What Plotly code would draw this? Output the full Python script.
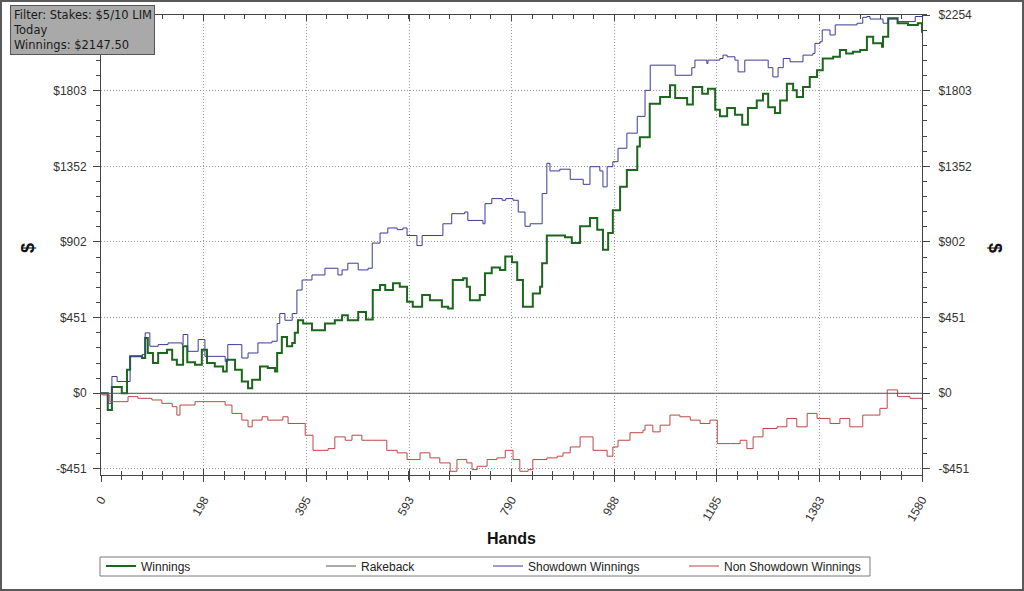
import plotly.graph_objects as go

# ---------------- data ----------------
hands_win = [0, 13, 21, 40, 50, 56, 79, 85, 90, 100, 110, 127, 137, 146, 158, 166, 181, 194, 204, 219,
             235, 242, 258, 271, 283, 291, 306, 321, 335, 339, 348, 358, 368, 373, 379, 389, 406, 431,
             450, 464, 475, 495, 510, 523, 537, 547, 562, 575, 589, 600, 618, 633, 656, 668, 677, 697,
             704, 710, 729, 739, 752, 768, 778, 791, 801, 812, 822, 831, 845, 849, 858, 878, 893, 906,
             922, 941, 955, 966, 976, 985, 999, 1012, 1032, 1037, 1056, 1076, 1095, 1105, 1128, 1139,
             1157, 1168, 1182, 1191, 1205, 1220, 1234, 1245, 1262, 1274, 1284, 1297, 1307, 1320, 1332,
             1339, 1351, 1364, 1378, 1389, 1409, 1422, 1434, 1447, 1461, 1474, 1486, 1503, 1505, 1515,
             1533, 1553, 1572, 1580]
winnings = [0, -100, 38, 0, 140, 220, 210, 330, 240, 180, 240, 260, 200, 170, 280, 185, 170, 260, 180, 160,
            130, 200, 140, 70, 30, 80, 160, 150, 130, 240, 335, 280, 300, 360, 435, 415, 375, 415,
            435, 465, 435, 485, 440, 615, 645, 615, 655, 635, 545, 515, 585, 555, 515, 505, 675, 685,
            635, 555, 585, 715, 750, 735, 815, 780, 675, 515, 515, 595, 635, 775, 940, 940, 930, 895,
            995, 1045, 975, 855, 955, 1090, 1230, 1330, 1470, 1525, 1725, 1765, 1835, 1760, 1720, 1825,
            1785, 1815, 1690, 1650, 1700, 1660, 1600, 1700, 1745, 1785, 1705, 1670, 1745, 1845, 1805,
            1765, 1825, 1885, 1925, 1995, 2005, 2045, 2025, 2035, 2045, 2125, 2085, 2065, 2125, 2235,
            2205, 2195, 2205, 2147.5]

hands_sd = [0, 13, 21, 31, 50, 56, 79, 85, 94, 110, 129, 156, 158, 167, 187, 200, 233, 239, 244, 264,
            271, 283, 302, 329, 339, 344, 354, 368, 377, 387, 406, 431, 456, 464, 475, 495, 514, 522,
            537, 552, 570, 581, 589, 608, 618, 656, 658, 675, 700, 706, 735, 739, 752, 772, 779, 793,
            803, 816, 826, 845, 849, 858, 864, 883, 903, 926, 928, 941, 960, 966, 974, 985, 995, 1012,
            1032, 1047, 1057, 1101, 1105, 1134, 1137, 1143, 1166, 1168, 1191, 1197, 1205, 1220, 1226,
            1236, 1239, 1282, 1284, 1293, 1303, 1313, 1326, 1349, 1351, 1370, 1374, 1384, 1388, 1403,
            1411, 1413, 1455, 1466, 1474, 1480, 1505, 1515, 1533, 1563, 1567, 1580]
showdown = [0, -60, 100, 70, 70, 220, 230, 360, 280, 290, 300, 290, 350, 250, 320, 220, 220, 190, 290, 290,
            210, 240, 300, 310, 415, 475, 435, 475, 615, 675, 705, 745, 705, 735, 775, 735, 745, 895,
            955, 985, 975, 985, 940, 880, 940, 940, 1010, 1070, 1080, 1030, 1010, 1130, 1160, 1150, 1160, 1150,
            1080, 995, 1010, 1010, 1190, 1370, 1325, 1335, 1275, 1275, 1245, 1350, 1325, 1230, 1350, 1380, 1460, 1550,
            1650, 1805, 1955, 1955, 1895, 1895, 1940, 1985, 1965, 1985, 1995, 2015, 2005, 1985, 1915,
            1915, 1985, 1985, 1940, 1885, 1940, 1995, 1975, 1975, 2015, 2025, 2085, 2095, 2165, 2135,
            2135, 2195, 2205, 2240, 2245, 2230, 2205, 2230, 2215, 2215, 2245, 2245]

hands_nsd = [0, 2, 17, 40, 52, 71, 98, 117, 137, 146, 152, 175, 181, 206, 239, 252, 271, 283, 291, 310,
             321, 350, 360, 383, 393, 408, 437, 450, 470, 483, 502, 523, 550, 570, 589, 614, 633, 652,
             672, 685, 704, 714, 724, 743, 762, 778, 793, 806, 822, 831, 858, 878, 889, 903, 922, 947,
             974, 985, 995, 1018, 1043, 1047, 1062, 1076, 1095, 1114, 1134, 1153, 1172, 1186, 1211, 1230,
             1243, 1255, 1274, 1301, 1320, 1339, 1359, 1378, 1403, 1422, 1441, 1466, 1499, 1513, 1533,
             1557, 1580]
non_showdown = [0, -10, -50, -50, -20, -30, -40, -60, -80, -130, -70, -70, -50, -50, -70, -120, -160, -200, -160, -140,
                -160, -140, -180, -180, -250, -340, -330, -260, -280, -250, -280, -280, -340, -355, -395, -355, -385, -415,
                -465, -395, -415, -455, -435, -395, -385, -340, -395, -465, -455, -395, -385, -375, -355, -320, -260, -340,
                -375, -320, -280, -235, -220, -190, -230, -190, -130, -140, -160, -180, -160, -300, -300, -280,
                -330, -260, -210, -200, -150, -200, -120, -150, -180, -150, -200, -130, -90, 20, -20,
                -30, -40]

hands_rb = [0, 1580]
rakeback = [0, 0]

x_ticks = [0, 198, 395, 593, 790, 988, 1185, 1383, 1580]
y_ticks = [-451, 0, 451, 902, 1352, 1803, 2254]
y_tick_text = ["-$451", "$0", "$451", "$902", "$1352", "$1803", "$2254"]

# ---------------- figure ----------------
W, H = 1024, 591
L, R, T, B = 101, 102, 15, 116
PW, PH = W - L - R, H - T - B


def px(xp):
    return (xp - L) / PW


def py(yp):
    return (H - B - yp) / PH


fig = go.Figure()
fig.add_trace(go.Scatter(x=hands_win, y=winnings, name="Winnings", mode="lines",
                         line=dict(color="#1d661d", width=2, shape="hv"), legend="legend"))
fig.add_trace(go.Scatter(x=hands_rb, y=rakeback, name="Rakeback", mode="lines",
                         line=dict(color="#555555", width=1), legend="legend2",
                         xaxis="x2", yaxis="y2"))
fig.add_trace(go.Scatter(x=hands_sd, y=showdown, name="Showdown Winnings", mode="lines",
                         line=dict(color="#3b3b98", width=1, shape="hv"), legend="legend3"))
fig.add_trace(go.Scatter(x=hands_nsd, y=non_showdown, name="Non Showdown Winnings", mode="lines",
                         line=dict(color="#c04646", width=1, shape="hv"), legend="legend4"))

xr = [0, 1580]
yr = [-487, 2254]
axc = "#444444"
gridc = "#9a9a9a"
griddash = "1px,2px"
tickfont = dict(family="Liberation Sans, Arial", size=12, color="#333333")

fig.update_layout(
    width=W, height=H,
    margin=dict(l=L, r=R, t=T, b=B, autoexpand=False),
    paper_bgcolor="white", plot_bgcolor="white",
    font=dict(family="Liberation Sans, Arial", size=12, color="#333333"),
    xaxis=dict(range=xr, tickmode="array", tickvals=x_ticks, ticktext=[str(v) for v in x_ticks],
               tickangle=-60, ticks="outside", ticklen=6, tickcolor=axc,
               minor=dict(dtick=39.5, tick0=0, ticks="outside", ticklen=4, tickcolor=axc, showgrid=False),
               showline=True, linecolor=axc, linewidth=1, automargin=False,
               showgrid=True, gridcolor=gridc, griddash=griddash, gridwidth=1,
               zeroline=False, tickfont=tickfont, ticklabelstandoff=6),
    xaxis2=dict(range=xr, overlaying="x", side="bottom", anchor="y", automargin=False,
                tickmode="array", tickvals=x_ticks, showticklabels=False,
                ticks="inside", ticklen=6, tickcolor=axc, mirror="allticks",
                minor=dict(dtick=39.5, tick0=0, ticks="inside", ticklen=4, tickcolor=axc, showgrid=False),
                showline=True, linecolor=axc, showgrid=False, zeroline=False),
    yaxis=dict(range=yr, tickmode="array", tickvals=y_ticks, ticktext=y_tick_text,
               ticks="outside", ticklen=7, tickcolor=axc, automargin=False,
               minor=dict(dtick=90.166, tick0=0, ticks="outside", ticklen=4, tickcolor=axc, showgrid=False),
               showline=True, linecolor=axc, linewidth=1,
               showgrid=True, gridcolor=gridc, griddash=griddash, gridwidth=1,
               zeroline=False, tickfont=tickfont, ticklabelstandoff=4),
    yaxis2=dict(range=yr, overlaying="y", side="right", anchor="x", automargin=False,
                tickmode="array", tickvals=y_ticks, ticktext=y_tick_text,
                ticks="outside", ticklen=7, tickcolor=axc,
                minor=dict(dtick=90.166, tick0=0, ticks="outside", ticklen=4, tickcolor=axc, showgrid=False),
                showline=True, linecolor=axc, showgrid=False, zeroline=False,
                tickfont=tickfont, ticklabelstandoff=6),
    yaxis3=dict(range=yr, overlaying="y", side="left", anchor="x", automargin=False,
                tickmode="array", tickvals=y_ticks, showticklabels=False,
                ticks="inside", ticklen=7, tickcolor=axc, mirror="allticks",
                minor=dict(dtick=90.166, tick0=0, ticks="inside", ticklen=4, tickcolor=axc, showgrid=False),
                showline=True, linecolor=axc, showgrid=False, zeroline=False),
    showlegend=True,
)

leg_common = dict(orientation="h", yanchor="middle", y=py(566), xanchor="left",
                  bgcolor="rgba(0,0,0,0)", borderwidth=0,
                  font=dict(family="Liberation Sans, Arial", size=12, color="#222222"))
fig.update_layout(
    legend=dict(x=px(101), **leg_common),
    legend2=dict(x=px(321), **leg_common),
    legend3=dict(x=px(488), **leg_common),
    legend4=dict(x=px(684), **leg_common),
)

shapes = [
    # legend frame
    dict(type="rect", xref="paper", yref="paper", x0=px(100), x1=px(870), y0=py(576), y1=py(557),
         line=dict(color="#7a7a7a", width=1), fillcolor="rgba(0,0,0,0)", layer="below"),
    # outer image frame
    dict(type="rect", xref="paper", yref="paper", x0=px(1), x1=px(1023), y0=py(590), y1=py(1),
         line=dict(color="#5a5a5a", width=2), fillcolor="rgba(0,0,0,0)"),
]
fig.update_layout(shapes=shapes)

annotations = [
    dict(text="Filter: Stakes: $5/10 LIM<br>Today<br>Winnings: $2147.50", xref="paper", yref="paper",
         x=px(10), y=py(5), xanchor="left", yanchor="top", align="left", showarrow=False,
         font=dict(family="DejaVu Sans, Verdana", size=11.5, color="#1a1a1a"),
         bgcolor="#a9a9a9", bordercolor="#555555", borderwidth=1, borderpad=2),
    dict(text="<b>Hands</b>", xref="paper", yref="paper", x=0.5, y=py(538), xanchor="center",
         yanchor="middle", showarrow=False, font=dict(family="Liberation Sans, Arial", size=16, color="#111111")),
    dict(text="<b>$</b>", xref="paper", yref="paper", x=px(28), y=py(248), xanchor="center",
         yanchor="middle", showarrow=False, textangle=-90,
         font=dict(family="Liberation Sans, Arial", size=18, color="#111111")),
    dict(text="<b>$</b>", xref="paper", yref="paper", x=px(995), y=py(248), xanchor="center",
         yanchor="middle", showarrow=False, textangle=90,
         font=dict(family="Liberation Sans, Arial", size=18, color="#111111")),
]
fig.update_layout(annotations=annotations)

# remove the browser's default 8px page margin so the figure fills the window exactly
fig.write_html("out.html", config={"displayModeBar": False},
               post_script="document.body.style.margin='0px';")
